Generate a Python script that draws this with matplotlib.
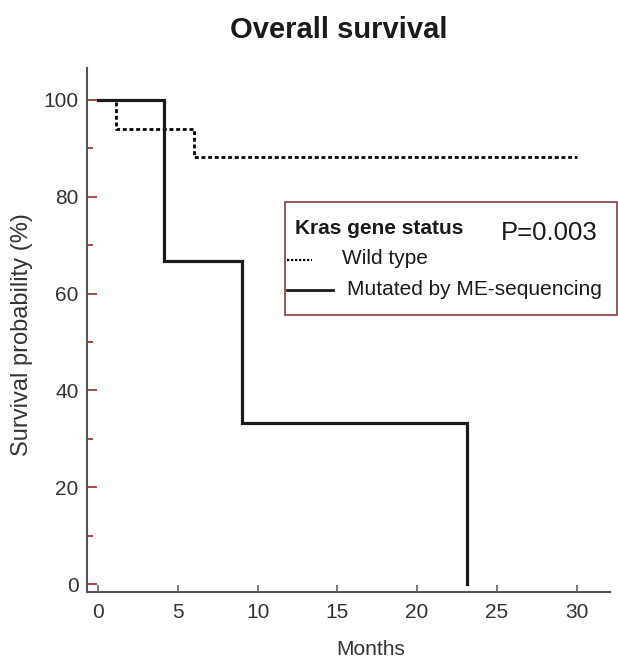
import matplotlib
matplotlib.use("Agg")
import matplotlib.pyplot as plt
from matplotlib.lines import Line2D
from matplotlib.patches import Rectangle

plt.rcParams['font.family'] = ['Liberation Sans', 'DejaVu Sans']

# Kaplan-Meier step data (months, survival %)
wild_months = [0, 1.1, 6, 30]
wild_surv = [100, 94.1, 88.2, 88.2]
mut_months = [0, 4.1, 9, 23.1, 23.1]
mut_surv = [100, 66.7, 33.3, 0, 0]

x_ticks = [0, 5, 10, 15, 20, 25, 30]
y_ticks = [0, 20, 40, 60, 80, 100]
y_minor = [10, 30, 50, 70, 90]

title = "Overall survival"
legend_title = "Kras gene status"
p_text = "P=0.003"
labels = ["Wild type", "Mutated by ME-sequencing"]

fig = plt.figure(figsize=(6.18, 6.58), dpi=100)
W, H = 618, 658
ax = fig.add_axes([87 / W, 1 - 592 / H, (610 - 87) / W, (592 - 68) / H])

ax.step(wild_months, wild_surv, where='post', color='black', lw=2.0,
        linestyle=(0, (1.4, 1.0)), zorder=3)
ax.step(mut_months, mut_surv, where='post', color='#1a1a1a', lw=2.3, zorder=4,
        solid_joinstyle='miter')

ax.set_xlim(-0.71, 32.1)
ax.set_ylim(-1.65, 106.6)

spine_c = '#555555'
for s in ['top', 'right']:
    ax.spines[s].set_visible(False)
for s in ['left', 'bottom']:
    ax.spines[s].set_color(spine_c)
    ax.spines[s].set_linewidth(1.5)

ax.set_xticks(x_ticks)
ax.set_yticks(y_ticks)
ax.set_yticks(y_minor, minor=True)
ax.tick_params(axis='x', direction='in', length=5, width=1.1, color=spine_c,
               labelsize=15, labelcolor='#333333', pad=8)
ax.tick_params(axis='y', which='major', direction='in', length=7, width=1.1,
               color='#8b1a1a', labelsize=15, labelcolor='#333333', pad=6)
ax.tick_params(axis='y', which='minor', direction='in', length=4, width=1.1,
               color='#8b1a1a')
ax.yaxis.get_major_ticks()[0].tick1line.set_color(spine_c)

ax.set_xlabel("Months", fontsize=15, color='#333333')
ax.xaxis.set_label_coords((371 - 87) / 523, -(640 - 592) / 524)
ax.set_ylabel("Survival probability (%)", fontsize=17, color='#333333')
ax.yaxis.set_label_coords(-(87 - 33) / 523, (592 - 335) / 524)

fig.text(339 / W, 1 - 30 / H, title, fontsize=21, fontweight='bold',
         ha='center', va='center', color='#1a1a1a')

# legend box
box = Rectangle((285 / W, 1 - 315 / H), (617 - 285) / W, (315 - 202) / H,
                transform=fig.transFigure, facecolor='white',
                edgecolor='#8b3a3a', lw=1.2, zorder=5)
fig.add_artist(box)
fig.text(295 / W, 1 - 229 / H, legend_title, fontsize=15, fontweight='bold',
         ha='left', va='center', color='#1a1a1a', zorder=6)
fig.text(501 / W, 1 - 233 / H, p_text, fontsize=18.5, ha='left', va='center',
         color='#1a1a1a', zorder=6)
fig.add_artist(Line2D([287 / W, 312 / W], [1 - 260 / H, 1 - 260 / H],
                      transform=fig.transFigure, color='black', lw=1.6,
                      linestyle=(0, (1.0, 0.8)), zorder=6))
fig.text(342 / W, 1 - 259 / H, labels[0], fontsize=15, ha='left', va='center',
         color='#1a1a1a', zorder=6)
fig.add_artist(Line2D([287 / W, 333 / W], [1 - 290 / H, 1 - 290 / H],
                      transform=fig.transFigure, color='#1a1a1a', lw=2.0,
                      zorder=6))
fig.text(347 / W, 1 - 290 / H, labels[1], fontsize=15, ha='left', va='center',
         color='#1a1a1a', zorder=6)

fig.savefig("out.png", dpi=100, facecolor='white')
